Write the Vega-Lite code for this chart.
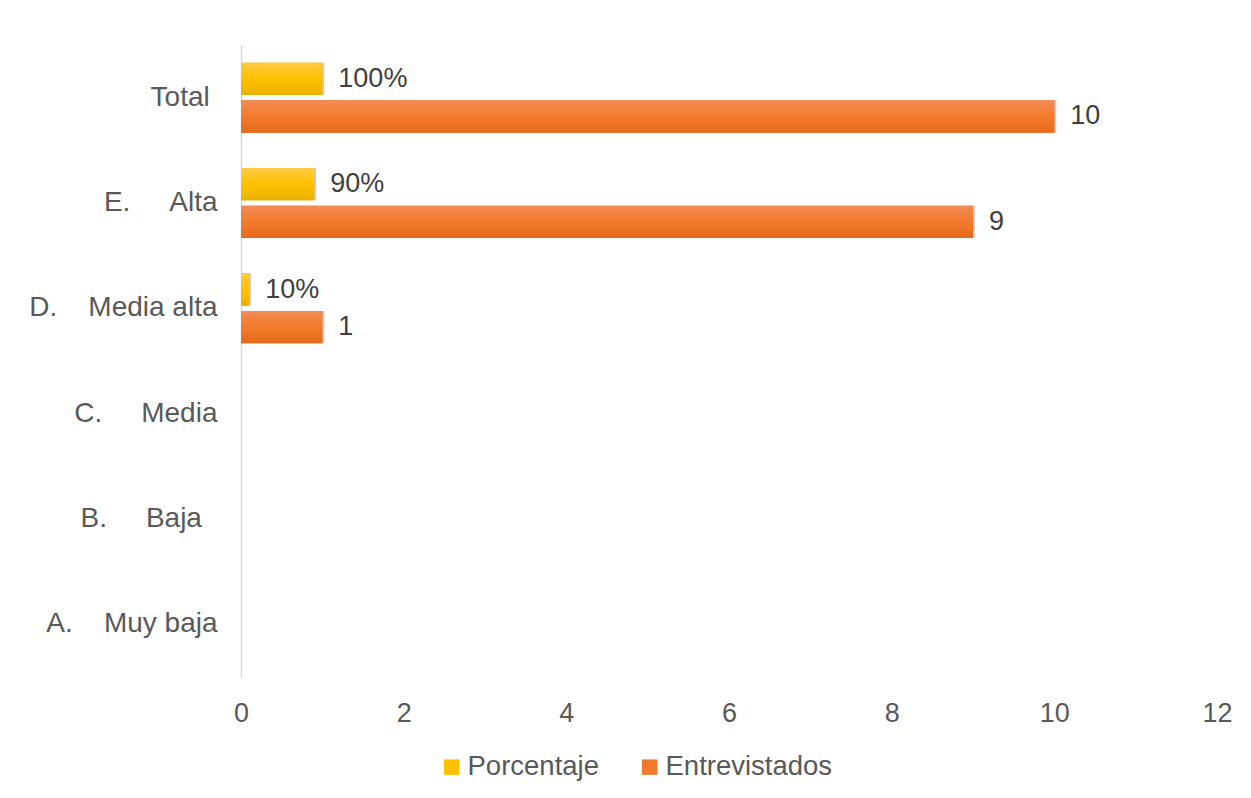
{
  "$schema": "https://vega.github.io/schema/vega-lite/v6.json",
  "width": 976,
  "height": 632,
  "autosize": "none",
  "padding": {"left": 241, "top": 45, "right": 34, "bottom": 121},
  "background": "white",
  "data": {
    "values": [
      {"categoria": "Total", "serie": "Porcentaje", "valor": 1, "etiqueta": "100%"},
      {"categoria": "Total", "serie": "Entrevistados", "valor": 10, "etiqueta": "10"},
      {"categoria": "E. Alta", "serie": "Porcentaje", "valor": 0.9, "etiqueta": "90%"},
      {"categoria": "E. Alta", "serie": "Entrevistados", "valor": 9, "etiqueta": "9"},
      {"categoria": "D. Media alta", "serie": "Porcentaje", "valor": 0.1, "etiqueta": "10%"},
      {"categoria": "D. Media alta", "serie": "Entrevistados", "valor": 1, "etiqueta": "1"}
    ]
  },
  "encoding": {
    "y": {
      "field": "categoria",
      "type": "nominal",
      "scale": {
        "domain": ["Total", "E. Alta", "D. Media alta", "C. Media", "B. Baja", "A. Muy baja"],
        "paddingInner": 0.335,
        "paddingOuter": 0.1675
      },
      "axis": {
        "title": null,
        "ticks": false,
        "tickSize": 0,
        "grid": false,
        "domain": true,
        "domainColor": "#d9d9d9",
        "domainWidth": 1.5,
        "labelPadding": 24,
        "labelLimit": 0,
        "labelFont": "Liberation Sans",
        "labelFontSize": 28,
        "labelColor": "#595959",
        "labelExpr": "datum.value == 'Total' ? 'Total\u00a0\u200b' : datum.value == 'E. Alta' ? 'E.\u00a0\u00a0\u00a0\u00a0\u00a0Alta' : datum.value == 'D. Media alta' ? 'D.\u00a0\u00a0\u00a0\u00a0Media alta' : datum.value == 'C. Media' ? 'C.\u00a0\u00a0\u00a0\u00a0\u00a0Media' : datum.value == 'B. Baja' ? 'B.\u00a0\u00a0\u00a0\u00a0\u00a0Baja\u00a0\u00a0\u200b' : 'A.\u00a0\u00a0\u00a0\u00a0Muy baja'"
      }
    },
    "yOffset": {
      "field": "serie",
      "type": "nominal",
      "scale": {"domain": ["Porcentaje", "Entrevistados"], "paddingInner": 0.14, "paddingOuter": 0}
    },
    "x": {
      "field": "valor",
      "type": "quantitative",
      "scale": {"domain": [0, 12], "nice": false, "zero": true},
      "axis": {
        "title": null,
        "values": [0, 2, 4, 6, 8, 10, 12],
        "ticks": false,
        "tickSize": 0,
        "grid": false,
        "domain": false,
        "labelPadding": 23,
        "labelFont": "Liberation Sans",
        "labelFontSize": 27,
        "labelColor": "#595959",
        "labelFlush": false
      }
    }
  },
  "layer": [
    {
      "mark": {"type": "bar", "fill": "#000000", "opacity": 0.2, "yOffset": 3, "xOffset": 2},
      "encoding": {}
    },
    {
      "mark": {"type": "bar"},
      "encoding": {
        "color": {
          "field": "serie",
          "type": "nominal",
          "scale": {"domain": ["Porcentaje", "Entrevistados"], "range": ["#FFC000", "#F07A2C"]},
          "legend": {
            "title": null,
            "orient": "none",
            "direction": "horizontal",
            "legendX": 197,
            "legendY": 708,
            "symbolType": "square",
            "symbolSize": 240,
            "symbolStrokeWidth": 0,
            "symbolOffset": 0,
            "labelOffset": 2,
            "labelLimit": 0,
            "columnPadding": 37,
            "labelFont": "Liberation Sans",
            "labelFontSize": 27.5,
            "labelColor": "#595959",
            "padding": 0
          }
        }
      }
    },
    {
      "transform": [{"filter": "datum.serie == 'Porcentaje'"}],
      "mark": {
        "type": "bar",
        "fill": {
          "gradient": "linear",
          "x1": 0, "y1": 0, "x2": 0, "y2": 1,
          "stops": [
            {"offset": 0, "color": "#FFCA45"},
            {"offset": 0.5, "color": "#FFC000"},
            {"offset": 1, "color": "#EAB200"}
          ]
        }
      }
    },
    {
      "transform": [{"filter": "datum.serie == 'Entrevistados'"}],
      "mark": {
        "type": "bar",
        "fill": {
          "gradient": "linear",
          "x1": 0, "y1": 0, "x2": 0, "y2": 1,
          "stops": [
            {"offset": 0, "color": "#F28C57"},
            {"offset": 0.5, "color": "#F27A2A"},
            {"offset": 1, "color": "#E56B1C"}
          ]
        }
      }
    },
    {
      "mark": {"type": "text", "align": "left", "baseline": "middle", "dx": 16, "font": "Liberation Sans", "fontSize": 27, "color": "#404040"},
      "encoding": {"text": {"field": "etiqueta", "type": "nominal"}}
    }
  ],
  "config": {
    "view": {"stroke": null},
    "font": "Liberation Sans"
  }
}
